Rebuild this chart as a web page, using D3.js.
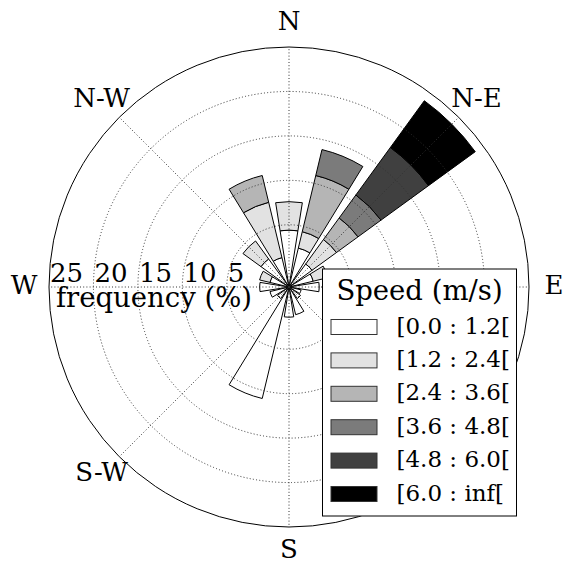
<!DOCTYPE html>
<html>
<head>
<meta charset="utf-8">
<script src="https://cdn.jsdelivr.net/npm/d3@7"></script>
<style>
  body { margin: 0; background: #fff; }
  text { font-family: "DejaVu Serif", serif; fill: #000; }
</style>
</head>
<body>
<svg id="chart" width="564" height="563"></svg>
<script>
// wind directions, clockwise from north
var directions = ["N","NNE","NE","ENE","E","ESE","SE","SSE","S","SSW","SW","WSW","W","WNW","NW","NNW"];

// frequency (%) per speed bin, one value per direction
var bin0 = [6.4, 4.5, 3.2, 2.8, 3.4, 1.4, 1.6, 3.2, 3.4, 12.9, 1.6, 2.2, 3.3, 2.2, 3.9, 3.4];
var bin1 = [3.2, 1.9, 3.4, 1.7, 0, 0, 0, 0, 0, 0, 0, 0, 0, 1.2, 2.5, 6.4];
var bin2 = [0, 6.5, 3.0, 0, 0, 0, 0, 0, 0, 0, 0, 0, 0, 0, 0, 3.1];
var bin3 = [0, 3.0, 3.2, 0, 0, 0, 0, 0, 0, 0, 0, 0, 0, 0, 0, 0];
var bin4 = [0, 0, 6.6, 0, 0, 0, 0, 0, 0, 0, 0, 0, 0, 0, 0, 0];
var bin5 = [0, 0, 6.5, 0, 0, 0, 0, 0, 0, 0, 0, 0, 0, 0, 0, 0];

var speedLabels = ["[0.0 : 1.2[", "[1.2 : 2.4[", "[2.4 : 3.6[", "[3.6 : 4.8[", "[4.8 : 6.0[", "[6.0 : inf["];
var speedColors = ["#ffffff", "#e2e2e2", "#b5b5b5", "#7b7b7b", "#404040", "#000000"];

var radialTicks = [5, 10, 15, 20, 25];
// S-E sits under the legend, so it is left empty
var compassLabels = ["N", "N-E", "E", "", "S", "S-W", "W", "N-W"];

var svg = d3.select("#chart");
var cx = 289, cy = 287, outerR = 240;
var rMin = -2, rMax = 25;

var r = d3.scaleLinear().domain([rMin, rMax]).range([0, outerR]);
var angle = d3.scaleLinear().domain([0, directions.length]).range([0, 2 * Math.PI]);
var opening = 0.8 * (2 * Math.PI / directions.length);

var g = svg.append("g").attr("transform", "translate(" + cx + "," + cy + ")");

// stack the bins
var bins = [bin0, bin1, bin2, bin3, bin4, bin5];
var segments = [];
directions.forEach(function(d, j) {
    var base = rMin;
    bins.forEach(function(b, i) {
        if (b[j] > 0) segments.push({dir: j, bin: i, y0: base, y1: base + b[j]});
        base += b[j];
    });
});

var arc = d3.arc()
    .innerRadius(function(d) { return r(d.y0); })
    .outerRadius(function(d) { return r(d.y1); })
    .startAngle(function(d) { return angle(d.dir) - opening / 2; })
    .endAngle(function(d) { return angle(d.dir) + opening / 2; });

g.selectAll(".bar")
    .data(segments)
    .enter().append("path")
    .attr("class", "bar")
    .attr("d", arc)
    .attr("fill", function(d) { return speedColors[d.bin]; })
    .attr("stroke", "#000")
    .attr("stroke-width", 1);

// grid: dotted circles and spokes
g.selectAll(".rgrid")
    .data(radialTicks.slice(0, -1))
    .enter().append("circle")
    .attr("class", "rgrid")
    .attr("r", function(d) { return r(d); })
    .attr("fill", "none")
    .attr("stroke", "#333")
    .attr("stroke-width", 1)
    .attr("stroke-dasharray", "1,2.2");

g.selectAll(".tgrid")
    .data(d3.range(8))
    .enter().append("line")
    .attr("class", "tgrid")
    .attr("x1", 0).attr("y1", 0)
    .attr("x2", function(d) { return outerR * Math.sin(d * Math.PI / 4); })
    .attr("y2", function(d) { return -outerR * Math.cos(d * Math.PI / 4); })
    .attr("stroke", "#333")
    .attr("stroke-width", 1)
    .attr("stroke-dasharray", "1,2.2");

g.append("circle")
    .attr("r", r(rMax))
    .attr("fill", "none")
    .attr("stroke", "#000")
    .attr("stroke-width", 1);

// compass labels
g.selectAll(".compass")
    .data(compassLabels)
    .enter().append("text")
    .attr("class", "compass")
    .attr("x", function(d, i) { return 265 * Math.sin(i * Math.PI / 4); })
    .attr("y", function(d, i) { return -264 * Math.cos(i * Math.PI / 4) - 2; })
    .attr("text-anchor", "middle")
    .attr("dominant-baseline", "central")
    .style("font-size", "26px")
    .text(function(d) { return d; });

// radial tick labels, along the west spoke
g.selectAll(".rlabel")
    .data(radialTicks)
    .enter().append("text")
    .attr("class", "rlabel")
    .attr("x", function(d) { return -r(d) + 1; })
    .attr("y", -5)
    .style("font-size", "26px")
    .text(function(d) { return d; });

g.append("text")
    .attr("x", -135)
    .attr("y", 20)
    .attr("text-anchor", "middle")
    .style("font-size", "27.5px")
    .text("frequency (%)");

// legend
var legend = svg.append("g").attr("transform", "translate(322.5,269)");
legend.append("rect")
    .attr("width", 194).attr("height", 247)
    .attr("fill", "#fff")
    .attr("stroke", "#000")
    .attr("stroke-width", 1);

legend.append("text")
    .attr("x", 97).attr("y", 31)
    .attr("text-anchor", "middle")
    .style("font-size", "27.5px")
    .text("Speed (m/s)");

var items = legend.selectAll(".item")
    .data(speedLabels)
    .enter().append("g")
    .attr("class", "item")
    .attr("transform", function(d, i) { return "translate(0," + (50 + i * 33.4) + ")"; });

items.append("rect")
    .attr("x", 8.5).attr("y", 0.5)
    .attr("width", 46).attr("height", 15)
    .attr("fill", function(d, i) { return speedColors[i]; })
    .attr("stroke", "#333")
    .attr("stroke-width", 1);

items.append("text")
    .attr("x", 74).attr("y", 14.5)
    .style("font-size", "23px")
    .text(function(d) { return d; });
</script>
</body>
</html>
